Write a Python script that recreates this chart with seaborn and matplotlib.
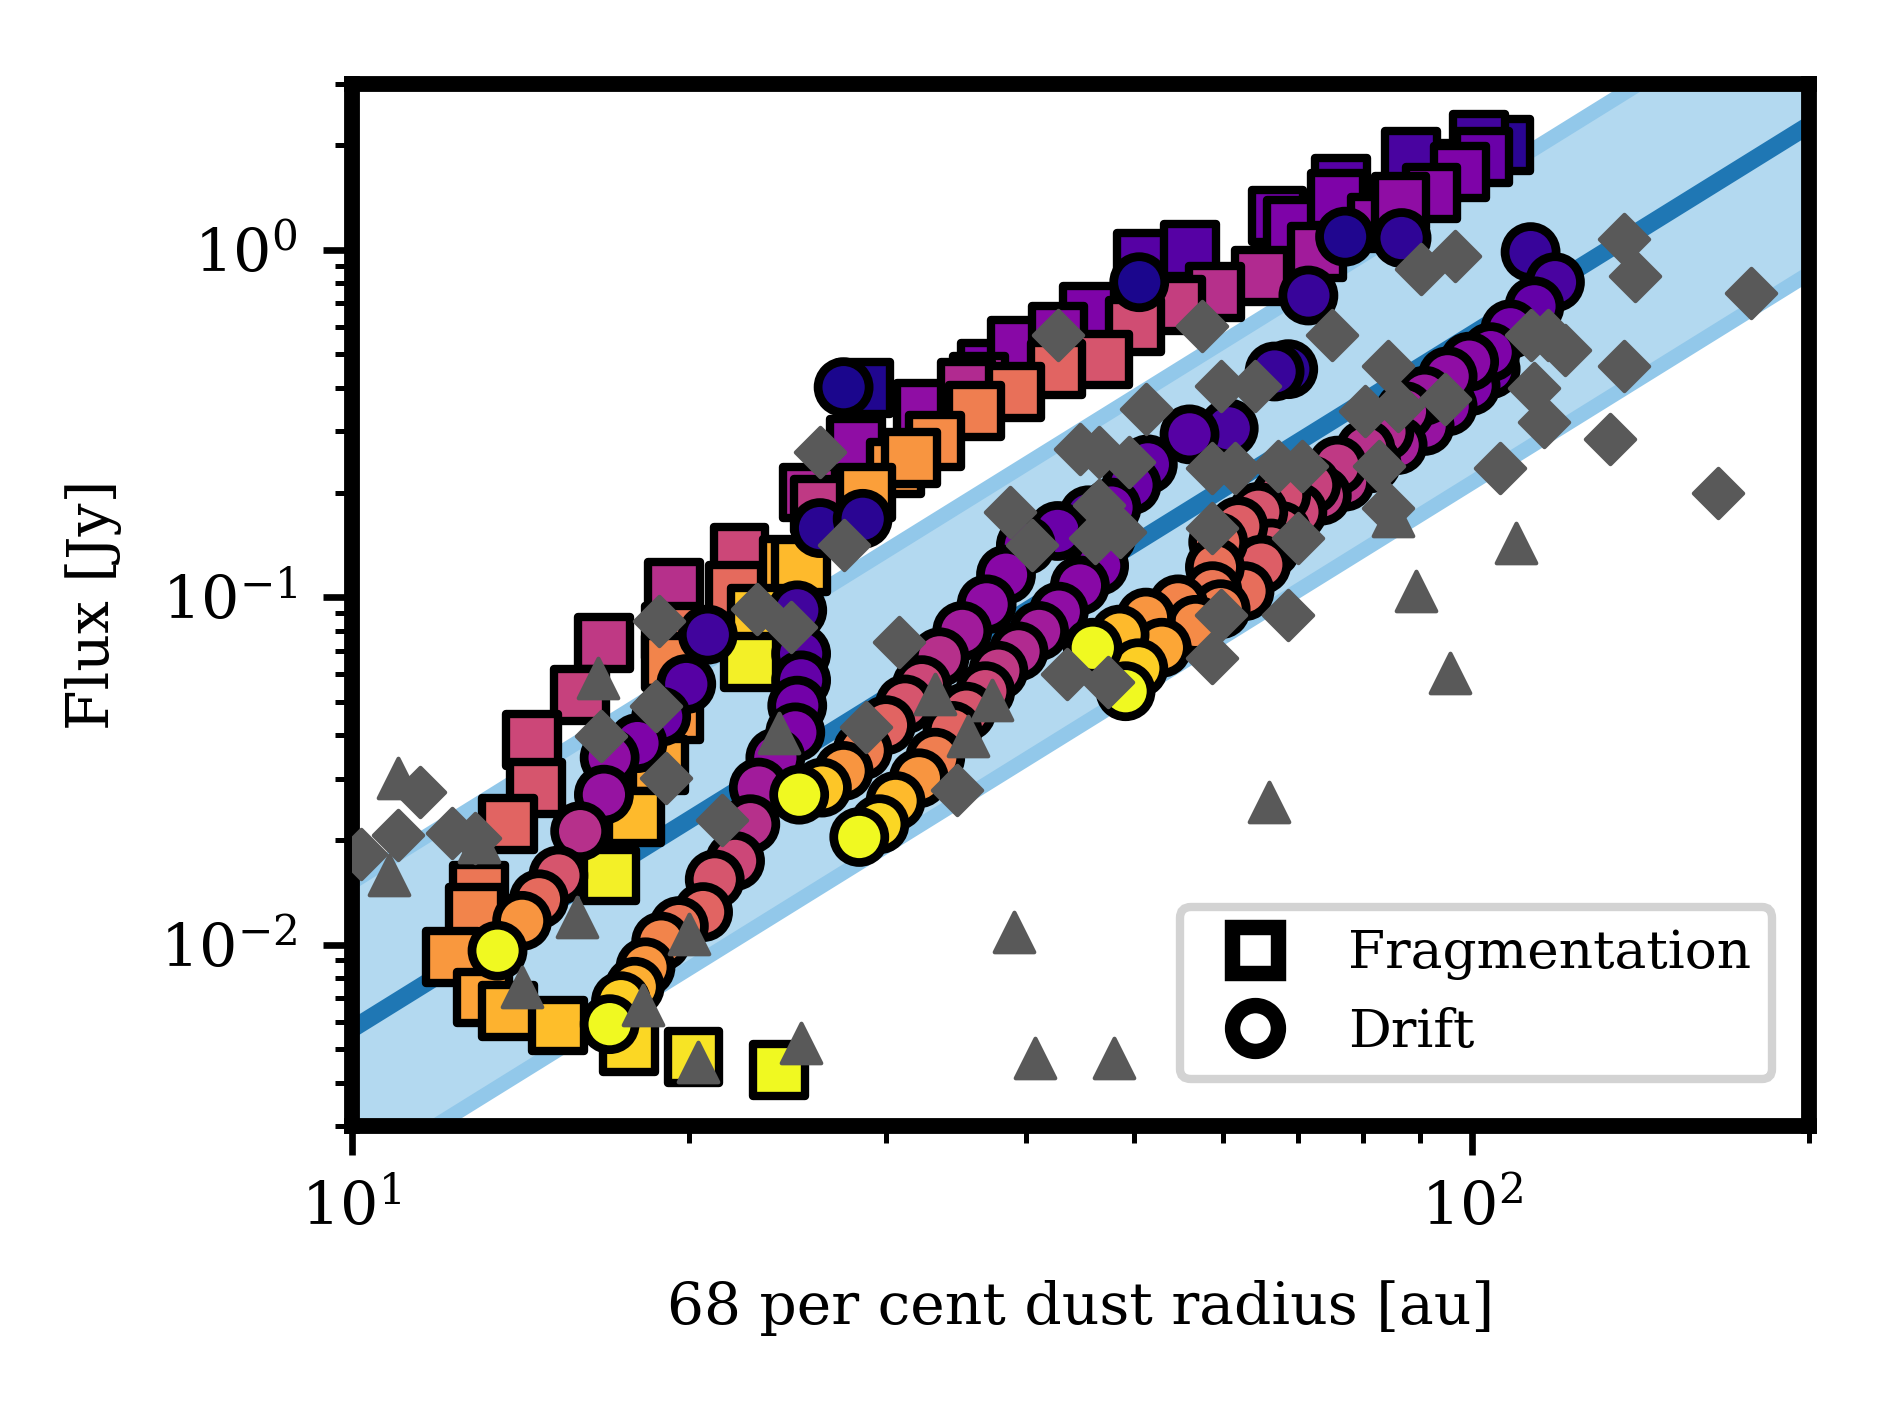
import numpy as np
import pandas as pd
import matplotlib.pyplot as plt
from matplotlib.lines import Line2D
import seaborn as sns

plt.rcParams['font.family'] = ['DejaVu Serif']
plt.rcParams['mathtext.fontset'] = 'dejavuserif'
plt.rcParams['font.size'] = 14

# fragmentation-limited models: 68 per cent dust radius [au], flux [Jy], colour value (plasma 0-1)
frag_radius = [24.1, 20.2, 17.7, 15.3, 13.8, 13.1, 12.3, 12.9, 13.0, 13.8, 14.6, 14.5, 16.0, 16.8,
               19.4, 22.0, 19.3, 19.3, 19.4, 18.8, 17.9, 17.0, 22.7, 23.0, 25.2, 24.6, 22.2,
               25.6, 26.2, 28.2, 32.4, 35.4, 36.9, 36.3, 39.3, 42.7, 45.5, 50.9, 56.1, 67.1,
               69.3, 75.9, 76.5, 82.4, 88.3, 93.3, 101.5, 107.0, 28.7,
               28.8, 30.6, 31.6, 33.2, 36.0, 39.1, 42.6, 46.9, 50.1, 54.5, 59.0, 64.9, 72.8,
               86.4, 92.1, 97.6, 102.3]
frag_flux = [0.00435, 0.00475, 0.00511, 0.00585, 0.00644, 0.00704, 0.00923, 0.0123, 0.0143,
             0.0222, 0.0283, 0.0389, 0.0523, 0.0738,
             0.106, 0.104, 0.0793, 0.0649, 0.0460, 0.0329, 0.0233, 0.0158, 0.0649, 0.0894,
             0.123, 0.124, 0.134,
             0.200, 0.184, 0.274, 0.348, 0.399, 0.453, 0.415, 0.528, 0.580, 0.660, 0.938,
             1.00, 1.25, 1.17, 1.40, 1.55, 1.19, 1.85, 1.71, 2.07, 2.00, 0.399,
             0.200, 0.235, 0.251, 0.281, 0.343, 0.389, 0.453, 0.483, 0.604, 0.692, 0.756,
             0.839, 0.984, 1.37, 1.46, 1.67, 1.85]
frag_colour = [1.00, 0.95, 0.92, 0.86, 0.83, 0.79, 0.76, 0.70, 0.66, 0.60, 0.55, 0.50, 0.48, 0.45,
               0.42, 0.62, 0.65, 0.70, 0.75, 0.80, 0.85, 0.98, 0.98, 0.88, 0.85, 0.82, 0.50,
               0.38, 0.45, 0.30, 0.30, 0.40, 0.25, 0.38, 0.28, 0.28, 0.25, 0.15, 0.15, 0.22,
               0.25, 0.25, 0.15, 0.30, 0.12, 0.10, 0.10, 0.05, 0.03,
               0.78, 0.75, 0.75, 0.72, 0.68, 0.64, 0.60, 0.55, 0.52, 0.47, 0.42, 0.40, 0.35,
               0.30, 0.28, 0.25, 0.20]

# drift-limited models
drift_radius = [27.5, 26.2, 28.6, 50.5, 77.1, 86.6, 71.5,
                20.8, 19.9, 18.9, 18.0, 17.0, 16.8, 16.0, 15.3, 14.7, 14.2, 13.5,
                25.0, 25.2, 25.2, 25.0, 24.9, 23.9, 23.1, 22.7, 22.0, 21.1, 20.6, 19.6, 18.9,
                18.3, 17.9, 17.4, 17.0,
                45.5, 42.7, 40.0, 38.4, 36.9, 35.1, 33.5, 32.3, 31.2, 30.0, 28.6, 27.5, 26.3, 25.1,
                68.6, 66.7, 60.7, 56.0, 51.4, 49.7, 47.7, 47.2, 46.5, 44.7, 42.8, 41.1, 39.4,
                37.8, 36.8, 35.4, 34.4, 33.2, 32.1, 30.6, 29.6, 28.4,
                112.9, 118.7, 113.8, 108.3, 104.0, 99.5, 95.2, 90.8, 87.2, 83.6, 80.4, 75.9,
                71.9, 67.6, 64.5, 61.9, 59.4, 59.0, 58.7, 54.7, 51.2, 48.5, 45.9,
                104.0, 99.8, 95.2, 90.8, 85.9, 81.4, 77.1, 73.5, 69.9, 67.6, 66.2, 64.9, 62.7,
                59.7, 56.7, 52.9, 50.4, 49.1]
drift_flux = [0.402, 0.158, 0.168, 0.806, 1.09, 1.08, 0.738,
              0.0780, 0.0562, 0.0453, 0.0380, 0.0345, 0.0270, 0.0212, 0.0158, 0.0135, 0.0117, 0.0096,
              0.0916, 0.0687, 0.0576, 0.0487, 0.0408, 0.0345, 0.0283, 0.0222, 0.0174, 0.0154,
              0.0124, 0.0113, 0.0102, 0.0086, 0.00756, 0.00687, 0.0059,
              0.172, 0.155, 0.141, 0.116, 0.0953, 0.0799, 0.0671, 0.0558, 0.0491, 0.0428,
              0.0362, 0.0316, 0.0283, 0.0270,
              0.453, 0.446, 0.306, 0.294, 0.241, 0.210, 0.181, 0.149, 0.123, 0.108, 0.0908,
              0.0799, 0.0698, 0.0614, 0.0536, 0.0468, 0.0412, 0.0345, 0.0301, 0.0259, 0.0222, 0.0204,
              0.984, 0.806, 0.687, 0.590, 0.507, 0.476, 0.432, 0.380, 0.343, 0.299, 0.267, 0.239,
              0.210, 0.196, 0.176, 0.160, 0.144, 0.122, 0.104, 0.0953, 0.0873, 0.0780, 0.0715,
              0.453, 0.405, 0.354, 0.311, 0.274, 0.243, 0.215, 0.196, 0.176, 0.155, 0.138, 0.124,
              0.104, 0.0923, 0.0832, 0.0715, 0.0624, 0.0536]
drift_colour = [0.02, 0.05, 0.05, 0.02, 0.03, 0.06, 0.08,
                0.10, 0.15, 0.20, 0.25, 0.30, 0.32, 0.42, 0.55, 0.62, 0.75, 1.00,
                0.10, 0.15, 0.18, 0.22, 0.25, 0.30, 0.35, 0.42, 0.50, 0.55, 0.60, 0.65, 0.70,
                0.75, 0.82, 0.90, 1.00,
                0.15, 0.20, 0.25, 0.28, 0.30, 0.35, 0.42, 0.50, 0.55, 0.60, 0.68, 0.75, 0.88, 1.00,
                0.05, 0.08, 0.12, 0.15, 0.18, 0.20, 0.22, 0.23, 0.25, 0.28, 0.30, 0.35, 0.40,
                0.45, 0.50, 0.55, 0.60, 0.68, 0.75, 0.85, 0.92, 1.00,
                0.08, 0.12, 0.18, 0.22, 0.25, 0.28, 0.30, 0.33, 0.36, 0.40, 0.42, 0.45,
                0.48, 0.52, 0.55, 0.58, 0.62, 0.64, 0.66, 0.70, 0.75, 0.85, 1.00,
                0.22, 0.25, 0.28, 0.32, 0.36, 0.40, 0.43, 0.46, 0.50, 0.53, 0.55, 0.58, 0.63,
                0.68, 0.72, 0.80, 0.90, 1.00]

# observed discs (detections)
obs_radius = [10.2, 11.0, 11.5, 12.3, 12.9, 16.7, 18.8, 18.7, 19.1, 21.4, 23.0, 24.7, 26.2, 27.5,
              28.8, 30.8, 34.7, 38.7, 40.5, 42.7, 43.5, 44.7, 46.5, 49.4, 46.5, 46.1, 48.5, 47.4,
              51.2, 57.5, 58.7, 61.5, 58.7, 59.8, 64.1, 59.8, 58.7, 67.2, 70.5, 70.0, 68.6, 75.0,
              80.4, 84.3, 86.0, 94.7, 82.6, 84.3, 90.1, 96.6, 106.1, 112.9, 116.9, 121.1, 113.8,
              116.1, 136.7, 139.8, 136.7, 133.0, 166.0, 177.8]
obs_flux = [0.0182, 0.0207, 0.0274, 0.0210, 0.0202, 0.0399, 0.0853, 0.0487, 0.0301, 0.0228,
            0.0923, 0.0819, 0.261, 0.141, 0.0422, 0.0744, 0.0278, 0.176, 0.141, 0.567, 0.0600,
            0.267, 0.261, 0.245, 0.184, 0.148, 0.154, 0.0571, 0.348, 0.604, 0.235, 0.235, 0.158,
            0.405, 0.405, 0.0887, 0.0670, 0.239, 0.239, 0.148, 0.0887, 0.567, 0.343, 0.464, 0.356,
            0.371, 0.239, 0.181, 0.880, 0.961, 0.235, 0.567, 0.567, 0.515, 0.399, 0.319, 1.075,
            0.839, 0.464, 0.285, 0.199, 0.750]

# observed discs (upper limits)
lim_radius = [10.8, 11.0, 13.0, 14.2, 15.9, 16.6, 18.2, 20.0, 20.4, 24.1, 25.2, 33.2, 35.5, 37.3,
              39.0, 40.8, 47.9, 65.9, 85.1, 89.2, 95.6, 109.6]
lim_flux = [0.0159, 0.0301, 0.0197, 0.00756, 0.0120, 0.0585, 0.0067, 0.0107, 0.0046, 0.0405,
            0.0052, 0.0527, 0.0399, 0.0507, 0.0109, 0.0047, 0.0047, 0.0257, 0.171, 0.104,
            0.0604, 0.143]

# size-luminosity relation (end points) and its scatter in dex
rel_radius = [10, 200]
rel_flux = [0.0057, 2.28]
rel_scatter = [0.40, 0.45]

grey = '#595959'

fig, ax = plt.subplots(figsize=(6.3, 4.74), dpi=300)
fig.subplots_adjust(left=0.186, right=0.957, bottom=0.208, top=0.941)
ax.set_xscale('log')
ax.set_yscale('log')

rr = np.array(rel_radius)
ff = np.array(rel_flux)
ax.fill_between(rr, ff / 10**rel_scatter[1], ff * 10**rel_scatter[1],
                color='#92c8ea', lw=0, zorder=0)
ax.fill_between(rr, ff / 10**rel_scatter[0], ff * 10**rel_scatter[0],
                color='#b3d9f0', lw=0, zorder=0)
sns.lineplot(x=rr, y=ff, color='#1f77b4', lw=4.2, ax=ax, zorder=1)

frag = pd.DataFrame({'r': frag_radius, 'f': frag_flux, 'c': frag_colour}).sort_values('c', kind='stable')
drift = pd.DataFrame({'r': drift_radius, 'f': drift_flux, 'c': drift_colour}).sort_values('c', kind='stable')

sns.scatterplot(data=frag, x='r', y='f', hue='c', palette='plasma', hue_norm=(0, 1),
                marker='s', s=155, edgecolor='black', linewidth=2.0, legend=False,
                ax=ax, zorder=2)
sns.scatterplot(data=drift, x='r', y='f', hue='c', palette='plasma', hue_norm=(0, 1),
                marker='o', s=150, edgecolor='black', linewidth=2.1, legend=False,
                ax=ax, zorder=3)

sns.scatterplot(x=obs_radius, y=obs_flux, marker='D', s=70, color=grey, edgecolor=grey,
                linewidth=1.0, ax=ax, zorder=4)
sns.scatterplot(x=lim_radius, y=lim_flux, marker='^', s=90, color=grey, edgecolor=grey,
                linewidth=1.0, ax=ax, zorder=4)

ax.set_xlim(10, 200)
ax.set_ylim(3e-3, 3)

for sp in ax.spines.values():
    sp.set_linewidth(3.8)
ax.tick_params(which='major', direction='out', length=7, width=1.6, pad=6, labelsize=14.5)
ax.tick_params(which='minor', direction='out', length=4, width=1.2)

ax.set_xlabel('68 per cent dust radius [au]', labelpad=10)
ax.set_ylabel('Flux [Jy]', labelpad=9)

handles = [Line2D([], [], marker='s', ls='', mfc='white', mec='black', mew=3.7, ms=11),
           Line2D([], [], marker='o', ls='', mfc='white', mec='black', mew=3.7, ms=11)]
leg = ax.legend(handles, ['Fragmentation', 'Drift'], loc='lower right', fontsize=12.8,
                bbox_to_anchor=(0.975, 0.045), borderaxespad=0, frameon=True,
                fancybox=True, framealpha=1, edgecolor='lightgrey', handletextpad=0.75)
leg.get_frame().set_linewidth(2)

fig.savefig('out.png', dpi=300)
